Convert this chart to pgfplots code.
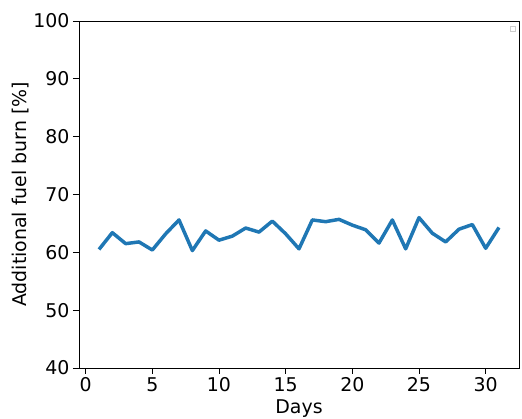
\documentclass[border=0pt]{standalone}
\usepackage{pgfplots}
\pgfplotsset{compat=1.18}
\usepackage{fontspec}
\setmainfont{DejaVu Sans}
\definecolor{mplblue}{HTML}{1F77B4}
\begin{document}
\begin{tikzpicture}
\begin{axis}[
  scale only axis,
  width=440bp, height=347bp,
  xmin=-0.5, xmax=32.5,
  ymin=40, ymax=100,
  xtick={0,5,...,30},
  ytick={40,50,...,100},
  tick align=outside,
  tick pos=left,
  major tick length=6bp,
  tick style={black, line width=0.8pt},
  axis line style={black, line width=0.8pt},
  /pgf/number format/assume math mode=true,
  ticklabel style={font=\fontsize{19}{22}\selectfont},
  label style={font=\fontsize{19}{22}\selectfont},
  xlabel={Days},
  ylabel={Additional fuel burn [\%]},
  xlabel style={yshift=-1bp},
  ylabel style={yshift=-2bp},
]
\addplot[mplblue, line width=3.5pt, line join=round] coordinates {
(1,60.5) (2,63.4) (3,61.5) (4,61.8) (5,60.4) (6,63.2) (7,65.6) (8,60.3) (9,63.7) (10,62.1)
(11,62.8) (12,64.2) (13,63.5) (14,65.4) (15,63.2) (16,60.6) (17,65.6) (18,65.3) (19,65.7) (20,64.7)
(21,63.9) (22,61.6) (23,65.6) (24,60.6) (25,66.0) (26,63.3) (27,61.8) (28,64.0) (29,64.8) (30,60.7) (31,64.3)
};
\end{axis}
\draw[gray!40, line width=0.6pt] ([xshift=-9bp,yshift=-5bp]current axis.north east) rectangle ([xshift=-4bp,yshift=-10bp]current axis.north east);
\pgfresetboundingbox
\path ([xshift=-79bp,yshift=-51bp]current axis.south west) rectangle ([xshift=3bp,yshift=21bp]current axis.north east);
\end{tikzpicture}
\end{document}
